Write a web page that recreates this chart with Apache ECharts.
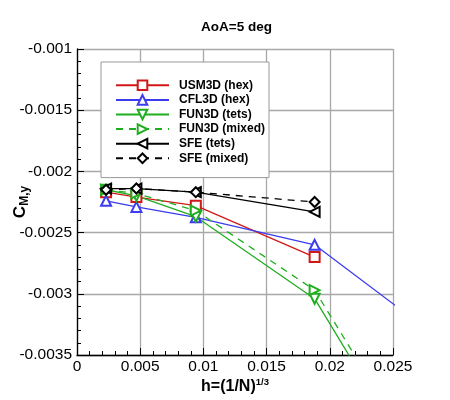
<!DOCTYPE html>
<html>
<head>
<meta charset="utf-8">
<script src="https://cdn.jsdelivr.net/npm/echarts@6/dist/echarts.min.js"></script>
<style>
  html, body { margin: 0; padding: 0; background: #fff; }
  #chart { width: 450px; height: 400px; }
</style>
</head>
<body>
<div id="chart"></div>
<script>
// grid spacing h for each mesh level (finest first)
var hLevels = [0.0023, 0.0047, 0.0094, 0.0188, 0.0376];

var usm3dHex = [-0.00217, -0.00221, -0.00228, -0.00270];
var cfl3dHex = [-0.00224, -0.00229, -0.002375, -0.00260, -0.00406];
var fun3dTets = [-0.00215, -0.00220, -0.00237, -0.00304, -0.00624];
var fun3dMixed = [-0.00215, -0.00218, -0.00232, -0.00297, -0.00613];
var sfeTets = [-0.00214, -0.00214, -0.00217, -0.00233];
var sfeMixed = [-0.00215, -0.00214, -0.00217, -0.00225];

var xTicks = { min: 0, max: 0.025, interval: 0.005 };
var yTicks = { min: -0.0035, max: -0.001, interval: 0.0005 };

function pairs(vals) {
    return vals.map(function (v, i) { return [hLevels[i], v]; });
}

function makeSeries(name, vals, color, symbol, rotate, dashed) {
    return {
        name: name,
        type: 'line',
        data: pairs(vals),
        symbol: symbol,
        symbolSize: 10,
        symbolRotate: rotate,
        showAllSymbol: true,
        clip: true,
        lineStyle: { color: color, width: 1.3, type: dashed ? [7, 6] : 'solid' },
        itemStyle: { color: color, borderWidth: 1.3 },
        emphasis: { disabled: true }
    };
}

var myChart = echarts.init(document.getElementById('chart'));
myChart.setOption({
    animation: false,
    backgroundColor: '#fff',
    title: {
        text: 'AoA=5 deg',
        left: 201,
        top: 20,
        padding: 0,
        textStyle: { fontFamily: 'Liberation Sans', fontSize: 13.5, fontWeight: 'bold', color: '#000' }
    },
    grid: { left: 77, top: 49, width: 316, height: 306, containLabel: false, outerBoundsMode: 'none' },
    legend: {
        orient: 'vertical',
        left: 101,
        top: 62,
        padding: [16, 4, 12, 14],
        itemWidth: 53,
        itemHeight: 12,
        itemGap: 0,
        backgroundColor: '#fff',
        borderColor: '#999',
        borderWidth: 1,
        textStyle: {
            fontFamily: 'Liberation Sans', fontSize: 12, fontWeight: 'bold', color: '#000',
            lineHeight: 14.6, padding: [0, 0, 0, 5]
        },
        data: ['USM3D (hex)', 'CFL3D (hex)', 'FUN3D (tets)', 'FUN3D (mixed)', 'SFE (tets)', 'SFE (mixed)']
    },
    xAxis: {
        type: 'value',
        min: xTicks.min,
        max: xTicks.max,
        interval: xTicks.interval,
        name: 'h=(1/N){sup|1/3}',
        nameLocation: 'middle',
        nameGap: 22,
        nameMoveOverlap: false,
        nameTextStyle: {
            fontFamily: 'Liberation Sans', fontSize: 16, fontWeight: 'bold', color: '#000', lineHeight: 20,
            rich: {
                sup: { fontFamily: 'Liberation Sans', fontSize: 9.5, fontWeight: 'bold', color: '#000', verticalAlign: 'top', lineHeight: 20, padding: [0, 0, 8, 0] }
            }
        },
        axisLine: { onZero: false, lineStyle: { color: '#000', width: 1.3 } },
        axisTick: { inside: true, length: 7, lineStyle: { color: '#000' } },
        minorTick: { show: true, splitNumber: 5, length: 4, lineStyle: { color: '#000' } },
        splitLine: { show: true, lineStyle: { color: '#a8a8a8', width: 1.3 } },
        axisLabel: { fontFamily: 'Liberation Sans', fontSize: 15.5, color: '#000', margin: 4 }
    },
    yAxis: {
        type: 'value',
        min: yTicks.min,
        max: yTicks.max,
        interval: yTicks.interval,
        name: '{c|C}{s|M,y}',
        nameLocation: 'middle',
        nameRotate: 90,
        nameGap: 46,
        nameMoveOverlap: false,
        nameTextStyle: {
            rich: {
                c: { fontFamily: 'Liberation Sans', fontSize: 17, fontWeight: 'bold', color: '#000', lineHeight: 22 },
                s: { fontFamily: 'Liberation Sans', fontSize: 12, fontWeight: 'bold', color: '#000', verticalAlign: 'bottom', lineHeight: 22, padding: [6, 0, 0, 0] }
            }
        },
        axisLine: { onZero: false, lineStyle: { color: '#000', width: 1.3 } },
        axisTick: { inside: true, length: 7, lineStyle: { color: '#000' } },
        minorTick: { show: true, splitNumber: 5, length: 4, lineStyle: { color: '#000' } },
        splitLine: { show: true, lineStyle: { color: '#a8a8a8', width: 1.3 } },
        axisLabel: { fontFamily: 'Liberation Sans', fontSize: 15.5, color: '#000', margin: 5 }
    },
    series: [
        makeSeries('USM3D (hex)', usm3dHex, '#d01818', 'emptyRect', 0, false),
        makeSeries('CFL3D (hex)', cfl3dHex, '#3b3bf0', 'emptyTriangle', 0, false),
        makeSeries('FUN3D (tets)', fun3dTets, '#1fae1f', 'emptyTriangle', 180, false),
        makeSeries('FUN3D (mixed)', fun3dMixed, '#1fae1f', 'emptyTriangle', -90, true),
        makeSeries('SFE (tets)', sfeTets, '#000', 'emptyTriangle', 90, false),
        makeSeries('SFE (mixed)', sfeMixed, '#000', 'emptyDiamond', 0, true)
    ]
});
</script>
</body>
</html>
